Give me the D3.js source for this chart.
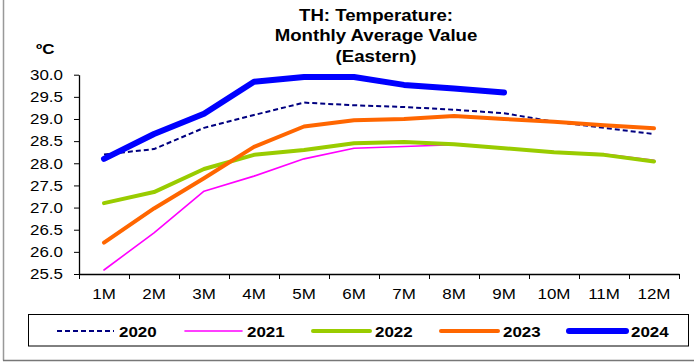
<!DOCTYPE html>
<html>
<head>
<meta charset="utf-8">
<script src="https://cdn.jsdelivr.net/npm/d3@7"></script>
<style>
  body { margin: 0; background: #fff; }
  text { font-family: Arial, "Liberation Sans", sans-serif; fill: #000; }
</style>
</head>
<body>
<div id="chart"></div>
<script>
// data
var months = ["1M", "2M", "3M", "4M", "5M", "6M", "7M", "8M", "9M", "10M", "11M", "12M"];
var years = ["2020", "2021", "2022", "2023", "2024"];
var t2020 = [28.20, 28.32, 28.80, 29.09, 29.37, 29.31, 29.27, 29.21, 29.13, 28.94, 28.80, 28.66];
var t2021 = [25.59, 26.43, 27.37, 27.71, 28.10, 28.34, 28.38, 28.42, 28.33, 28.26, 28.21, 28.07];
var t2022 = [27.10, 27.35, 27.87, 28.19, 28.30, 28.45, 28.48, 28.43, 28.34, 28.25, 28.19, 28.04];
var t2023 = [26.21, 26.98, 27.66, 28.37, 28.83, 28.97, 29.00, 29.07, 29.00, 28.94, 28.86, 28.79];
var t2024 = [28.10, 28.66, 29.12, 29.84, 29.95, 29.95, 29.77, 29.69, 29.60];
var yTicks = [25.5, 26.0, 26.5, 27.0, 27.5, 28.0, 28.5, 29.0, 29.5, 30.0];

var seriesValues = [t2020, t2021, t2022, t2023, t2024];
var colors = ["#000080", "#ff00ff", "#99cc00", "#ff6600", "#0000ff"];
var widths = [2, 1.6, 4, 4, 6];
var dashes = ["5,3", null, null, null, null];

var W = 694, H = 364;
var K = 1.13; // horizontal text stretch

var svg = d3.select("#chart").append("svg")
    .attr("width", W)
    .attr("height", H);

var x = d3.scaleBand().domain(months).range([79, 679]);
var xEdge = d3.scaleLinear().domain([0, 12]).range([79, 679]);
var y = d3.scaleLinear().domain([25.5, 30]).range([274, 74.7]);

function stretchText(sel) {
    sel.each(function () {
        var t = d3.select(this);
        var tx = +t.attr("x") || 0, ty = +t.attr("y") || 0;
        t.attr("x", 0).attr("y", 0)
            .attr("transform", "translate(" + tx + "," + ty + ") scale(" + K + ",1)");
    });
}

// outer frame (left + bottom)
svg.append("line").attr("x1", 3.5).attr("x2", 3.5).attr("y1", 0).attr("y2", 360.5)
    .attr("stroke", "#999").attr("stroke-width", 1.5);
svg.append("line").attr("x1", 3).attr("x2", W).attr("y1", 360.5).attr("y2", 360.5)
    .attr("stroke", "#777").attr("stroke-width", 1.5);

// title
var titleLines = ["TH: Temperature:", "Monthly Average Value", "(Eastern)"];
svg.append("g").selectAll("text").data(titleLines).join("text")
    .attr("x", 376)
    .attr("y", (d, i) => 20.5 + i * 20.5)
    .attr("text-anchor", "middle")
    .style("font-size", "16.5px")
    .style("font-weight", "bold")
    .text(d => d)
    .call(stretchText);

// unit label
svg.append("text")
    .attr("x", 36).attr("y", 54)
    .style("font-size", "15px")
    .style("font-weight", "bold")
    .text("ºC")
    .call(stretchText);

// y axis
var yAxis = svg.append("g")
    .attr("transform", "translate(79,0)")
    .call(d3.axisLeft(y).tickValues(yTicks).tickFormat(d3.format(".1f"))
        .tickSize(5).tickSizeOuter(0).tickPadding(11));
yAxis.select(".domain").attr("stroke", "#000").attr("stroke-width", 1.3);
yAxis.selectAll(".tick line").attr("stroke", "#000");
yAxis.selectAll("text").style("font-size", "15px").style("font-family", "Arial, 'Liberation Sans', sans-serif")
    .call(stretchText);

// x axis: edge ticks
var xTickAxis = svg.append("g")
    .attr("transform", "translate(0,274)")
    .call(d3.axisBottom(xEdge).ticks(12).tickFormat("").tickSize(5).tickSizeOuter(0));
xTickAxis.select(".domain").attr("stroke", "#000").attr("stroke-width", 1.3);
xTickAxis.selectAll(".tick line").attr("stroke", "#000");

// x axis labels
var xAxis = svg.append("g")
    .attr("transform", "translate(0,274)")
    .call(d3.axisBottom(x).tickSize(0).tickPadding(14.5));
xAxis.select(".domain").remove();
xAxis.selectAll("text").style("font-size", "15px").style("font-family", "Arial, 'Liberation Sans', sans-serif")
    .call(stretchText);

// lines
var line = d3.line()
    .x((d, i) => x(months[i]) + x.bandwidth() / 2)
    .y(d => y(d));

svg.append("g").selectAll("path").data(seriesValues).join("path")
    .attr("d", d => line(d))
    .attr("fill", "none")
    .attr("stroke", (d, i) => colors[i])
    .attr("stroke-width", (d, i) => widths[i])
    .attr("stroke-dasharray", (d, i) => dashes[i])
    .attr("stroke-linecap", (d, i) => dashes[i] ? "butt" : "round")
    .attr("stroke-linejoin", "round");

// legend
var legend = svg.append("g");
legend.append("rect")
    .attr("x", 28.5).attr("y", 314.5)
    .attr("width", 660).attr("height", 31.5)
    .attr("fill", "none").attr("stroke", "#000").attr("stroke-width", 1);

var items = legend.selectAll("g.item").data(years).join("g")
    .attr("class", "item")
    .attr("transform", (d, i) => "translate(" + (57 + i * 128) + ",331)");
items.append("line")
    .attr("x1", 0).attr("x2", 57).attr("y1", 0).attr("y2", 0)
    .attr("stroke", (d, i) => colors[i])
    .attr("stroke-width", (d, i) => widths[i])
    .attr("stroke-dasharray", (d, i) => dashes[i])
    .attr("stroke-linecap", (d, i) => dashes[i] ? "butt" : "round");
items.append("text")
    .attr("x", 62).attr("y", 5.5)
    .style("font-size", "15px")
    .style("font-weight", "bold")
    .text(d => d)
    .call(stretchText);
</script>
</body>
</html>
